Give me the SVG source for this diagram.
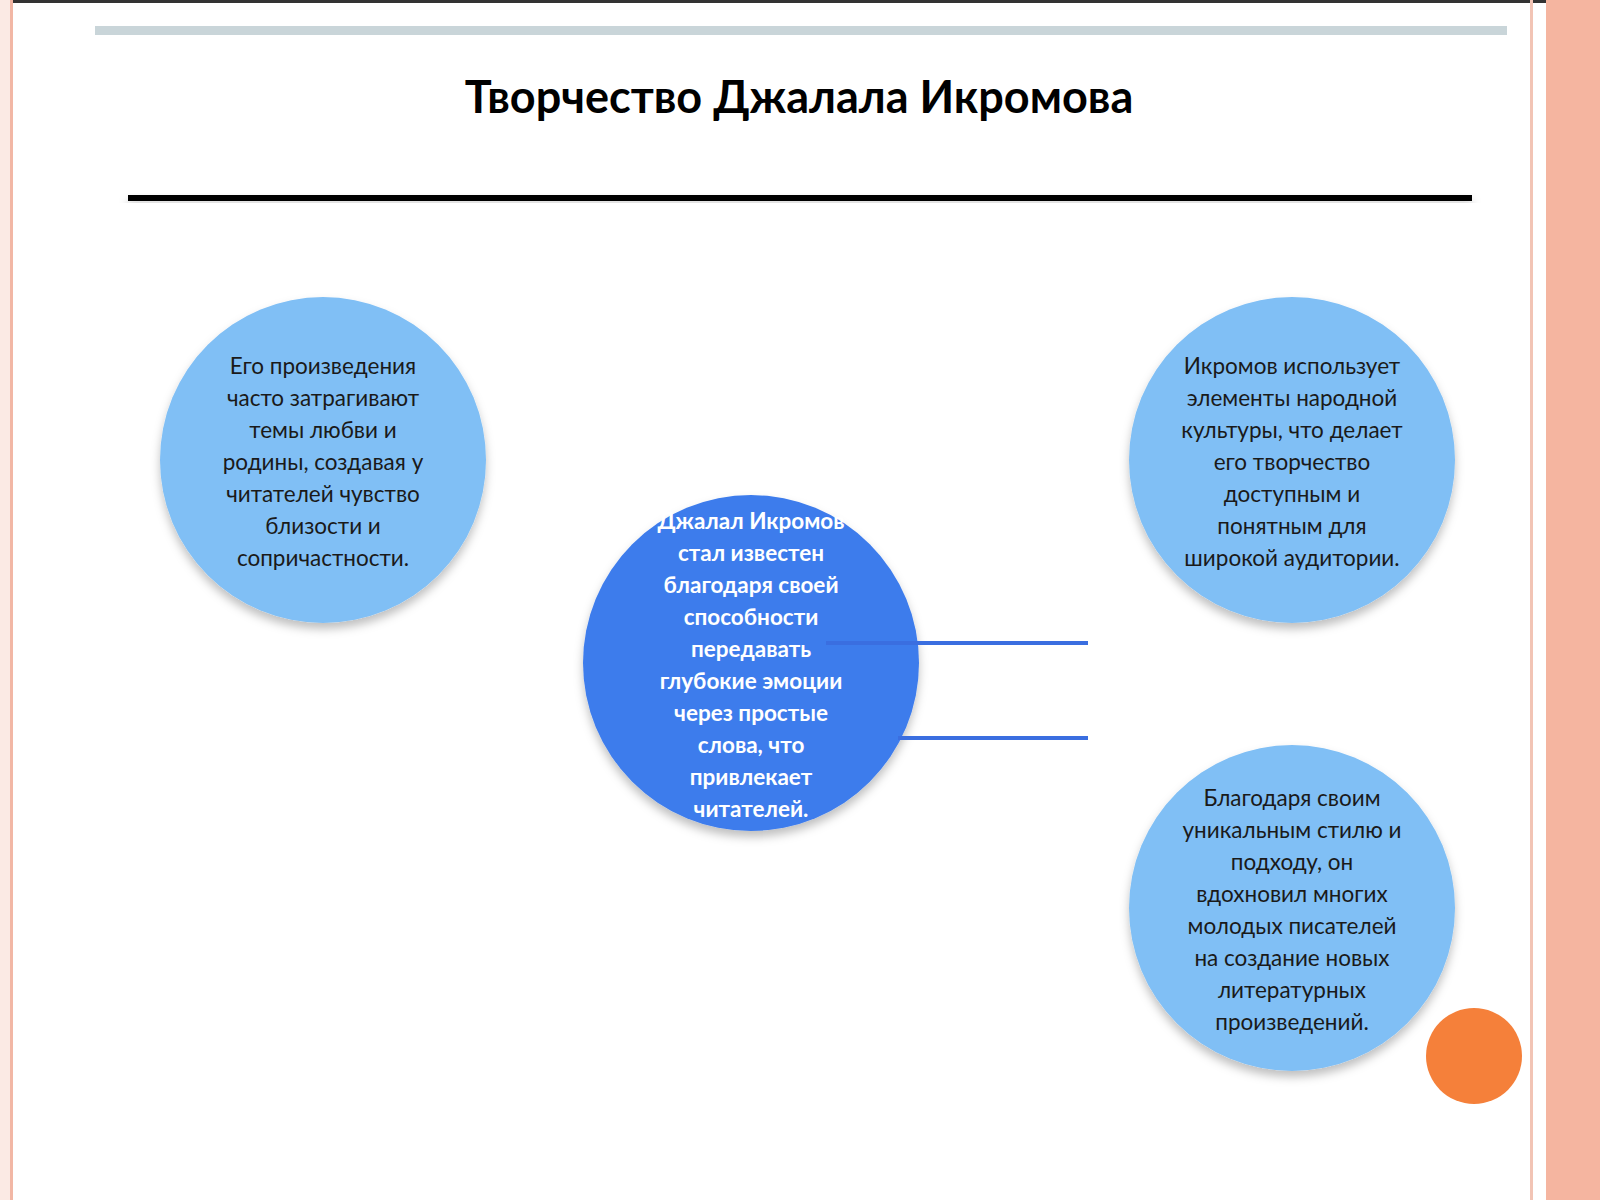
<svg xmlns="http://www.w3.org/2000/svg" width="1600" height="1200" viewBox="0 0 1600 1200">
<defs>
<filter id="sh" x="-20%" y="-20%" width="140%" height="150%"><feDropShadow dx="0" dy="6" stdDeviation="5" flood-color="#000" flood-opacity="0.25"/></filter>
<style>
.lt{fill:#80bff5}
.t{font-family:"Lato","Liberation Sans",sans-serif;font-size:22.5px;fill:#1a1a1a;text-anchor:middle}
.w{font-family:"Lato","Liberation Sans",sans-serif;font-size:22.5px;fill:#fff;font-weight:bold;text-anchor:middle}
.c{stroke:#3a6ee0;stroke-width:4;fill:none}
</style>
</defs>
<rect width="1600" height="1200" fill="#fff"/>
<rect x="0" y="0" width="1600" height="3" fill="#333"/>
<rect x="0" y="0" width="12" height="1200" fill="#fbeae4"/>
<rect x="10" y="0" width="3" height="1200" fill="#f2b7a5"/>
<rect x="1530" y="0" width="3" height="1200" fill="#f2c4b5"/>
<rect x="1546" y="0" width="54" height="1200" fill="#f5b5a0"/>
<rect x="95" y="26" width="1412" height="9" fill="#c9d5d9"/>
<text x="799" y="113" font-family="Lato,'Liberation Sans',sans-serif" font-size="45" font-weight="bold" text-anchor="middle" fill="#000">Творчество Джалала Икромова</text>
<rect x="128" y="195" width="1344" height="6" fill="#000" filter="url(#sh)"/>
<g id="n1"><circle cx="323" cy="460" r="163" class="lt" filter="url(#sh)"/>
<text class="t"><tspan x="323" y="374">Его произведения</tspan><tspan x="323" y="406">часто затрагивают</tspan><tspan x="323" y="438">темы любви и</tspan><tspan x="323" y="470">родины, создавая у</tspan><tspan x="323" y="502">читателей чувство</tspan><tspan x="323" y="534">близости и</tspan><tspan x="323" y="566">сопричастности.</tspan></text></g>
<g id="n3"><circle cx="1292" cy="460" r="163" class="lt" filter="url(#sh)"/>
<text class="t"><tspan x="1292" y="374">Икромов использует</tspan><tspan x="1292" y="406">элементы народной</tspan><tspan x="1292" y="438">культуры, что делает</tspan><tspan x="1292" y="470">его творчество</tspan><tspan x="1292" y="502">доступным и</tspan><tspan x="1292" y="534">понятным для</tspan><tspan x="1292" y="566">широкой аудитории.</tspan></text></g>
<g id="n4"><circle cx="1292" cy="908" r="163" class="lt" filter="url(#sh)"/>
<text class="t"><tspan x="1292" y="806">Благодаря своим</tspan><tspan x="1292" y="838">уникальным стилю и</tspan><tspan x="1292" y="870">подходу, он</tspan><tspan x="1292" y="902">вдохновил многих</tspan><tspan x="1292" y="934">молодых писателей</tspan><tspan x="1292" y="966">на создание новых</tspan><tspan x="1292" y="998">литературных</tspan><tspan x="1292" y="1030">произведений.</tspan></text></g>
<g id="n2"><circle cx="751" cy="663" r="168" fill="#3d7cec" filter="url(#sh)"/></g>
<g id="connectors"><line class="c" x1="826" y1="643" x2="1088" y2="643"/><line class="c" x1="898" y1="738" x2="1088" y2="738"/></g>
<text class="w"><tspan x="751" y="529">Джалал Икромов</tspan><tspan x="751" y="561">стал известен</tspan><tspan x="751" y="593">благодаря своей</tspan><tspan x="751" y="625">способности</tspan><tspan x="751" y="657">передавать</tspan><tspan x="751" y="689">глубокие эмоции</tspan><tspan x="751" y="721">через простые</tspan><tspan x="751" y="753">слова, что</tspan><tspan x="751" y="785">привлекает</tspan><tspan x="751" y="817">читателей.</tspan></text>
<circle id="dot" cx="1474" cy="1056" r="48" fill="#f5803a"/>
</svg>
